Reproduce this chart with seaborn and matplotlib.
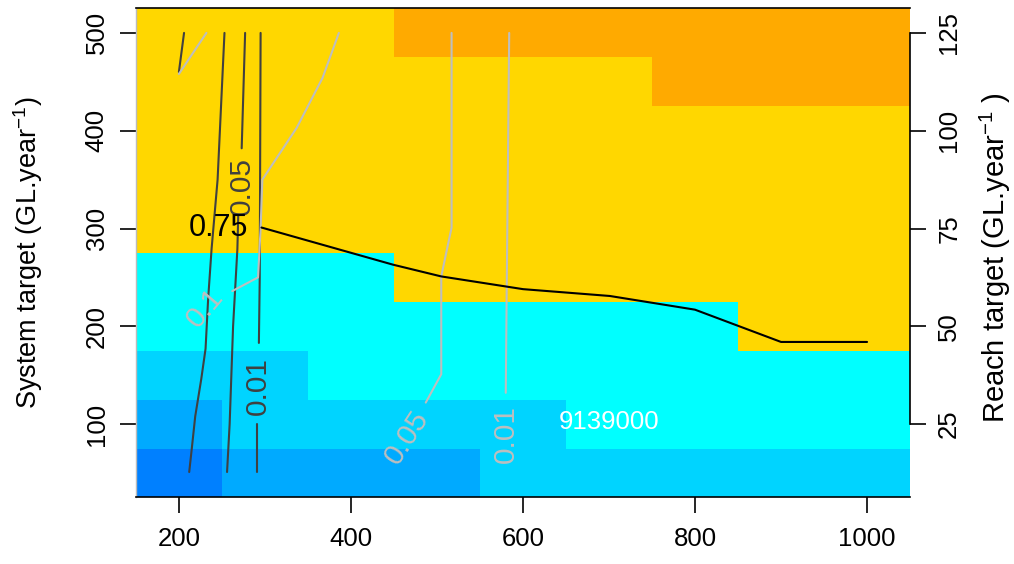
import matplotlib
matplotlib.use('Agg')
import matplotlib.pyplot as plt
from matplotlib.colors import ListedColormap, BoundaryNorm
import numpy as np
import seaborn as sns

# grid of targets
reach_flow = [200, 300, 400, 500, 600, 700, 800, 900, 1000]
system_target = [50, 100, 150, 200, 250, 300, 350, 400, 450, 500]

# colour class per cell (rows = system_target, cols = reach_flow)
cell_class = [
    [0, 1, 1, 1, 2, 2, 2, 2, 2],
    [1, 2, 2, 2, 2, 3, 3, 3, 3],
    [2, 2, 3, 3, 3, 3, 3, 3, 3],
    [3, 3, 3, 3, 3, 3, 3, 4, 4],
    [3, 3, 3, 4, 4, 4, 4, 4, 4],
    [4, 4, 4, 4, 4, 4, 4, 4, 4],
    [4, 4, 4, 4, 4, 4, 4, 4, 4],
    [4, 4, 4, 4, 4, 4, 4, 4, 4],
    [4, 4, 4, 4, 4, 4, 5, 5, 5],
    [4, 4, 4, 5, 5, 5, 5, 5, 5],
]
class_colors = ['#0080FF', '#00AAFF', '#00D4FF', '#00FFFF', '#FFD700', '#FFAA00']

# contour traces
dark_lines = [
    ([253, 245, 238, 234, 231, 226, 219, 215, 212], [500, 350, 279, 228, 177, 146, 108, 75, 51]),
    ([277, 273], [500, 382]),
    ([269, 268, 263, 259, 256], [313, 279, 200, 100, 51]),
    ([295, 294, 293], [500, 250, 183]),
    ([291, 291], [100, 51]),
    ([206, 200], [500, 460]),
]
grey_lines = [
    ([200, 232], [458, 500]),
    ([386, 367, 337, 297, 295, 292, 262], [500, 454, 403, 350, 300, 250, 236]),
    ([517, 517, 505, 505, 487], [500, 301, 251, 151, 122]),
    ([584, 581, 580], [500, 228, 132]),
]
black_x = [296, 449, 505, 600, 701, 800, 900, 1000]
black_y = [301, 263, 251, 238, 231, 217, 184, 184]

# contour labels: text, x, y, rotation, colour
contour_labels = [
    ('0.05', 273, 343, 90, '#404040'),
    ('0.01', 292, 139, 90, '#404040'),
    ('0.1', 230, 219, 50, '#BEBEBE'),
    ('0.05', 465, 86, 57, '#BEBEBE'),
    ('0.01', 580, 90, 90, '#BEBEBE'),
]

sns.set_theme(style='white')
plt.rcParams['font.family'] = ['Liberation Sans', 'DejaVu Sans']
plt.rcParams['text.color'] = 'black'
plt.rcParams['axes.labelcolor'] = 'black'
plt.rcParams['xtick.color'] = 'black'
plt.rcParams['ytick.color'] = 'black'
plt.rcParams['mathtext.fontset'] = 'custom'
plt.rcParams['mathtext.rm'] = 'Liberation Sans'
plt.rcParams['mathtext.it'] = 'Liberation Sans'
plt.rcParams['mathtext.default'] = 'regular'

fig = plt.figure(figsize=(10.14, 5.64), dpi=100)
ax = fig.add_axes([0.134, 0.118, 0.7635, 0.867])

x_edges = np.concatenate([[reach_flow[0] - 50], np.array(reach_flow) + 50])
y_edges = np.concatenate([[system_target[0] - 25], np.array(system_target) + 25])
cmap = ListedColormap(class_colors)
norm = BoundaryNorm(np.arange(-0.5, len(class_colors) + 0.5), cmap.N)
ax.pcolormesh(x_edges, y_edges, np.array(cell_class), cmap=cmap, norm=norm, shading='flat')

for xs, ys in dark_lines:
    sns.lineplot(x=xs, y=ys, sort=False, estimator=None, color='#404040', lw=1.5, ax=ax)
for xs, ys in grey_lines:
    sns.lineplot(x=xs, y=ys, sort=False, estimator=None, color='#BEBEBE', lw=1.5, ax=ax)
sns.lineplot(x=black_x, y=black_y, sort=False, estimator=None, color='black', lw=1.5, ax=ax)

for txt, lx, ly, rot, col in contour_labels:
    ax.text(lx, ly, txt, rotation=rot, rotation_mode='anchor', ha='center', va='center',
            color=col, fontsize=21.5)
ax.text(246, 301, '0.75', ha='center', va='center', color='black', fontsize=22)
ax.text(700, 102, '9139000', ha='center', va='center', color='white', fontsize=18.5)

ax.set_xlim(150, 1050)
ax.set_ylim(25, 525)
ax.set_xticks([200, 400, 600, 800, 1000])
ax.set_yticks([100, 200, 300, 400, 500])
ax.tick_params(axis='both', which='both', direction='out', length=11.5, width=1.2,
               color='black', labelcolor='black', labelsize=18.5, bottom=True, left=True)
ax.tick_params(axis='x', pad=10)
ax.tick_params(axis='y', pad=8, labelrotation=90)
for lab in ax.get_yticklabels():
    lab.set_va('center')

for side in ['top', 'bottom']:
    ax.spines[side].set_color('black')
    ax.spines[side].set_linewidth(1.2)
ax.spines['left'].set_color('#BBBBBB')
ax.spines['left'].set_linewidth(1.0)
ax.spines['right'].set_visible(False)

ax.set_ylabel('System target (GL.year$^{-1}$)', fontsize=19.5, color='black')
ax.yaxis.set_label_coords(-0.118, 0.5)

ax2 = ax.twinx()
ax2.set_ylim(25 / 4, 525 / 4)
ax2.set_yticks([25, 50, 75, 100, 125])
ax2.tick_params(axis='y', direction='out', length=11.5, width=1.2, color='black',
                labelcolor='black', labelsize=18.5, right=True, pad=8, labelrotation=90)
for lab in ax2.get_yticklabels():
    lab.set_va('center')
for side in ['top', 'bottom', 'left']:
    ax2.spines[side].set_visible(False)
ax2.spines['right'].set_visible(True)
ax2.spines['right'].set_color('black')
ax2.spines['right'].set_linewidth(1.2)
ax2.spines['right'].set_bounds(25, 125)
ax2.set_ylabel('Reach target (GL.year$^{-1}$ )', fontsize=21, color='black')
ax2.yaxis.set_label_coords(1.088, 0.49)
ax2.grid(False)
ax.grid(False)

plt.savefig('out.png', dpi=100)
plt.close()
